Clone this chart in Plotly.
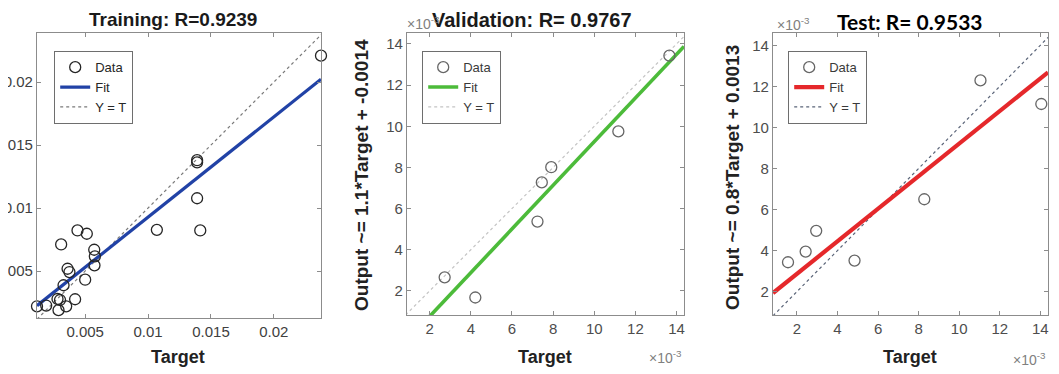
import plotly.graph_objects as go

# the page body adds an 8px margin, so the figure is drawn 8px in from the top-left
OFF = 8
W, H = 1059 - OFF, 374 - OFF

# ---------------- data ----------------
train_target = [0.02375, 0.0139, 0.0139, 0.0139, 0.01415, 0.0107, 0.00439, 0.00513,
                0.00309, 0.00572, 0.00577, 0.00574, 0.0036, 0.00375, 0.0050, 0.00328,
                0.0042, 0.0028, 0.0030, 0.00288, 0.00349, 0.00117, 0.0019]
train_output = [0.0221, 0.0138, 0.01363, 0.01078, 0.00822, 0.00827, 0.00822, 0.00796,
                0.00711, 0.00669, 0.00616, 0.00545, 0.00518, 0.00492, 0.00431, 0.00387,
                0.00276, 0.00278, 0.0027, 0.00189, 0.0022, 0.0022, 0.00226]
train_fit = (0.796, 0.00132)      # slope, intercept
train_range_x = [0.00117, 0.02375]
train_range_y = [0.00127, 0.0239]
train_ticks = [0.005, 0.01, 0.015, 0.02]
train_ticktext = ["0.005", "0.01", "0.015", "0.02"]

val_target = [0.00273, 0.00422, 0.00724, 0.00745, 0.00791, 0.01117, 0.01365]
val_output = [0.00266, 0.00168, 0.00537, 0.00727, 0.00801, 0.00975, 0.01343]
val_fit = (1.061, -0.00136)
val_range_x = [0.0009, 0.01436]
val_range_y = [0.00083, 0.01453]

test_target = [0.00156, 0.00243, 0.00295, 0.00484, 0.00828, 0.01105, 0.01405]
test_output = [0.00343, 0.00395, 0.00496, 0.00351, 0.0065, 0.01229, 0.01114]
test_fit = (0.793, 0.00128)
test_range_x = [0.00082, 0.01438]
test_range_y = [0.00086, 0.0146]

milli_ticks = [2, 4, 6, 8, 10, 12, 14]
SCALE = 1000.0

titles = ["Training: R=0.9239", "Validation: R= 0.9767", "Test: R= 0.9533"]
ytitles = ["Output ~= 1.1*Target + -0.0014", "Output ~= 0.8*Target + 0.0013"]

# ---------------- layout helpers (screen pixel -> paper) ----------------
def px(x):
    return (x - OFF) / W

def py(y):
    return 1 - (y - OFF) / H

ARIAL = "Arial, Liberation Sans, sans-serif"

fig = go.Figure()

panels = [
    dict(t=train_target, o=train_output, fit=train_fit, rx=train_range_x, ry=train_range_y,
         s=1.0, color="#2142a6", yt_color="#7a7a7a", data_color="#262626", fitw=3.2,
         legend="legend", ax="x", ay="y"),
    dict(t=val_target, o=val_output, fit=val_fit, rx=val_range_x, ry=val_range_y,
         s=SCALE, color="#4cbb3a", yt_color="#c4c4c4", data_color="#666666", fitw=3.6,
         legend="legend2", ax="x2", ay="y2"),
    dict(t=test_target, o=test_output, fit=test_fit, rx=test_range_x, ry=test_range_y,
         s=SCALE, color="#e5282b", yt_color="#5a6478", data_color="#666666", fitw=4.2,
         legend="legend3", ax="x3", ay="y3"),
]

for p in panels:
    s = p["s"]
    m, b = p["fit"]
    x0, x1 = p["rx"]
    lo = min(p["rx"][0], p["ry"][0])
    hi = max(p["rx"][1], p["ry"][1])
    # Y = T
    fig.add_trace(go.Scatter(
        x=[lo * s, hi * s], y=[lo * s, hi * s], mode="lines", name="Y = T",
        line=dict(color=p["yt_color"], width=1.2, dash="dot"),
        xaxis=p["ax"], yaxis=p["ay"], legend=p["legend"], legendrank=3))
    # Fit
    fig.add_trace(go.Scatter(
        x=[x0 * s, x1 * s], y=[(m * x0 + b) * s, (m * x1 + b) * s], mode="lines",
        name="Fit", line=dict(color=p["color"], width=p["fitw"]),
        xaxis=p["ax"], yaxis=p["ay"], legend=p["legend"], legendrank=2))
    # Data
    fig.add_trace(go.Scatter(
        x=[v * s for v in p["t"]], y=[v * s for v in p["o"]], mode="markers", name="Data",
        marker=dict(symbol="circle-open", size=11, color=p["data_color"],
                    line=dict(width=1.3, color=p["data_color"])),
        cliponaxis=False,
        xaxis=p["ax"], yaxis=p["ay"], legend=p["legend"], legendrank=1))

axis_common = dict(showgrid=False, zeroline=False, showline=True, linecolor="#8c8c8c",
                   linewidth=1.3, mirror="ticks", ticks="inside", ticklen=4,
                   tickcolor="#8c8c8c", automargin=False,
                   tickfont=dict(family=ARIAL, size=15, color="#404040"))

# panel pixel boxes (left, right, top, bottom) in screen pixels
boxes = [(37, 321, 33, 318), (407, 684, 33, 315), (773, 1048, 33, 315)]

layout = dict(width=W, height=H, margin=dict(l=0, r=0, t=0, b=0),
              paper_bgcolor="white", plot_bgcolor="white", template="none",
              font=dict(family=ARIAL, color="#262626"))

for i, (p, bx) in enumerate(zip(panels, boxes)):
    l, r, t, bt = bx
    suffix = "" if i == 0 else str(i + 1)
    xa = dict(axis_common, domain=[px(l), px(r)], range=[v * p["s"] for v in p["rx"]],
              anchor="y" + suffix)
    ya = dict(axis_common, domain=[py(bt), py(t)], range=[v * p["s"] for v in p["ry"]],
              anchor="x" + suffix)
    if i == 0:
        xa.update(tickvals=train_ticks, ticktext=train_ticktext)
        ya.update(tickvals=train_ticks, ticktext=train_ticktext)
    else:
        xa.update(tickvals=milli_ticks)
        ya.update(tickvals=milli_ticks)
        xa["tickfont"] = dict(family=ARIAL, size=15, color="#4d4d4d")
        ya["tickfont"] = dict(family=ARIAL, size=15, color="#4d4d4d")
    layout["xaxis" + suffix] = xa
    layout["yaxis" + suffix] = ya

legend_pos = [(54, 51), (422, 51), (788, 51)]
for i, (lx, ly) in enumerate(legend_pos):
    key = "legend" if i == 0 else "legend" + str(i + 1)
    layout[key] = dict(x=px(lx), y=py(ly), xanchor="left", yanchor="top",
                       bgcolor="white", bordercolor="#6e6e6e", borderwidth=1.2,
                       font=dict(family=ARIAL, size=13,
                                 color="#262626" if i == 0 else "#3a3a3a"),
                       traceorder="normal", tracegroupgap=0, itemwidth=30)

fig.update_layout(**layout)

ann = []
# titles
ann.append(dict(text="<b>" + titles[0] + "</b>", x=px(173), y=py(19),
                font=dict(family=ARIAL, size=19, color="#1a1a1a")))
ann.append(dict(text="<b>" + titles[1] + "</b>", x=px(532), y=py(20),
                font=dict(family=ARIAL, size=20, color="#1a1a1a")))
ann.append(dict(text="<b>" + titles[2] + "</b>", x=px(910), y=py(21),
                font=dict(family="Lato, sans-serif", size=21, color="#000000")))
# y titles
ann.append(dict(text="<b>" + ytitles[0] + "</b>", x=px(362), y=py(175), textangle=-90,
                font=dict(family=ARIAL, size=19, color="#222222")))
ann.append(dict(text="<b>" + ytitles[1] + "</b>", x=px(732), y=py(178), textangle=-90,
                font=dict(family=ARIAL, size=19, color="#222222")))
# x titles
for cx in (178, 545, 910):
    ann.append(dict(text="<b>Target</b>", x=px(cx), y=py(357),
                    font=dict(family=ARIAL, size=18, color="#222222")))
# x10^-3 labels
for (ex, ey) in [(405, 23), (775, 24)]:
    ann.append(dict(text="×10<sup>-3</sup>", x=px(ex), y=py(ey), xanchor="left",
                    font=dict(family=ARIAL, size=14, color="#808080")))
for (ex, ey) in [(684, 357), (1048, 359)]:
    ann.append(dict(text="×10<sup>-3</sup>", x=px(ex), y=py(ey), xanchor="right",
                    font=dict(family=ARIAL, size=14, color="#808080")))

for a in ann:
    a.setdefault("xanchor", "center")
    a.update(xref="paper", yref="paper", yanchor="middle", showarrow=False)
fig.update_layout(annotations=ann)

fig.write_html("out.html")
